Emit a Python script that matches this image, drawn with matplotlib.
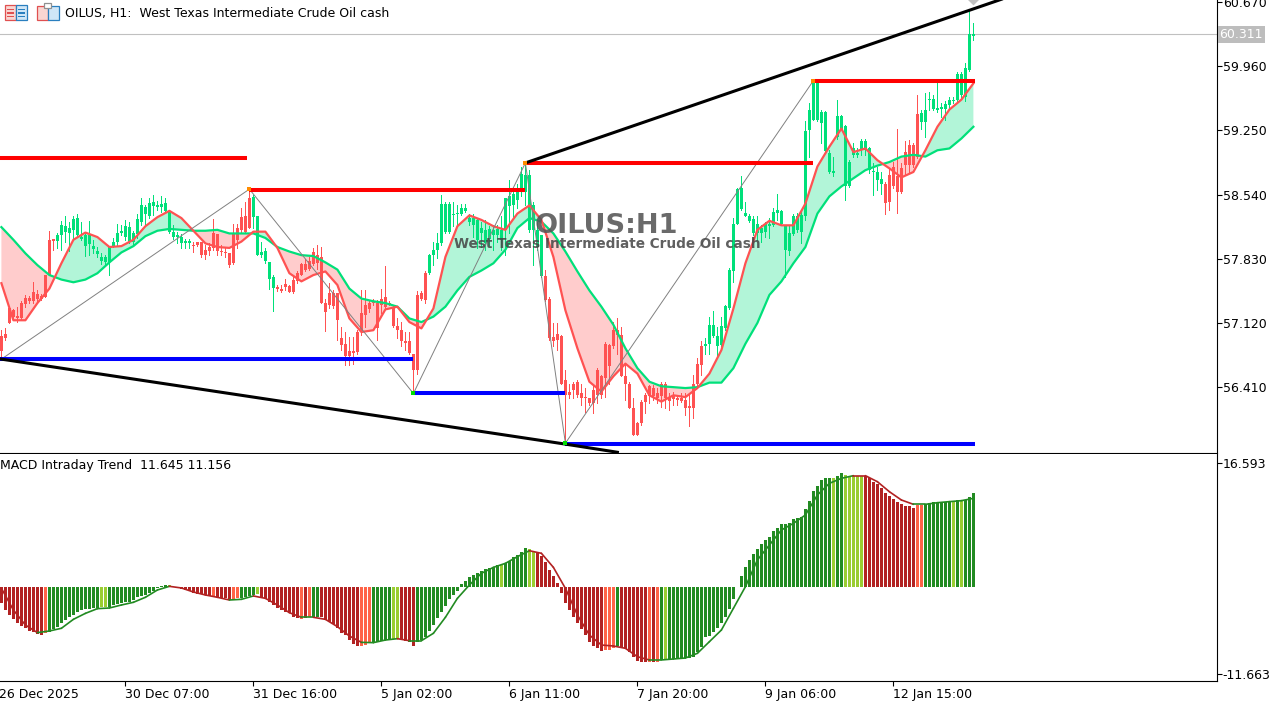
import numpy as np
import matplotlib
matplotlib.use("Agg")
import matplotlib.pyplot as plt
from matplotlib.patches import Rectangle

# candles, 244 H1 bars, ten bars per row
body_top = [56.98,57.0,57.28,57.26,57.2,57.34,57.4,57.4,57.46,57.44,
57.42,57.65,58.04,58.05,58.09,58.2,58.19,58.17,58.27,58.28,
58.07,58.09,58.09,57.97,57.92,57.85,57.85,57.96,58.01,58.11,
58.14,58.19,58.18,58.11,58.27,58.43,58.4,58.45,58.46,58.43,
58.44,58.45,58.35,58.13,58.09,58.07,58.03,58.03,57.98,58.01,
58.01,57.93,57.96,58.12,58.1,57.92,57.91,57.89,58.12,58.17,
58.29,58.3,58.5,58.51,58.3,57.91,57.92,57.79,57.63,57.52,
57.5,57.55,57.53,57.6,57.67,57.77,57.77,57.8,57.91,57.87,
57.85,57.34,57.45,57.45,57.45,56.95,56.89,56.81,56.81,57.02,
57.23,57.32,57.34,57.36,57.34,57.39,57.41,57.34,57.3,57.09,
57.04,56.92,56.92,56.78,57.43,57.45,57.67,57.87,57.93,58.0,
58.44,58.44,58.44,58.33,58.34,58.39,58.39,58.28,58.28,58.26,
58.17,58.15,58.16,58.15,58.16,58.15,58.5,58.52,58.55,58.57,
58.77,58.76,58.76,58.42,58.15,58.09,57.64,57.39,56.97,57.0,
56.98,56.49,56.36,56.45,56.47,56.34,56.3,56.29,56.38,56.6,
56.53,56.89,56.88,57.04,57.04,56.99,56.53,56.45,56.18,56.01,
56.25,56.32,56.42,56.4,56.35,56.45,56.45,56.3,56.31,56.29,
56.29,56.27,56.2,56.44,56.67,56.87,56.89,57.1,57.1,56.98,
57.09,57.31,57.71,58.21,58.6,58.61,58.34,58.3,58.27,58.22,
58.17,58.21,58.22,58.35,58.37,58.36,58.19,58.12,58.3,58.3,
58.31,59.24,59.48,59.79,59.77,59.45,59.45,59.0,58.8,59.41,
59.41,59.3,58.9,59.05,59.0,59.13,59.13,59.05,58.8,58.79,
58.71,58.66,58.76,58.85,58.74,58.83,59.01,59.09,59.09,59.43,
59.44,59.47,59.6,59.6,59.5,59.51,59.54,59.59,59.59,59.87,
59.87,59.94,60.32,60.32]
body_bot = [56.81,56.95,57.12,57.19,57.18,57.17,57.33,57.36,57.36,57.38,
57.38,57.41,57.65,58.03,58.03,58.09,58.13,58.12,58.15,58.09,
58.05,57.97,57.99,57.94,57.88,57.81,57.79,57.79,57.97,58.01,
58.11,58.07,58.02,58.02,58.1,58.24,58.33,58.3,58.41,58.4,
58.4,58.36,58.13,58.07,58.07,58.0,58.0,58.0,57.97,57.98,
57.87,57.87,57.92,57.95,57.92,57.9,57.89,57.76,57.78,58.04,
58.15,58.13,58.17,58.29,57.87,57.87,57.8,57.61,57.51,57.5,
57.47,57.52,57.46,57.46,57.58,57.65,57.71,57.72,57.77,57.78,
57.34,57.24,57.32,57.31,57.15,56.88,56.75,56.75,56.79,56.8,
57.02,57.21,57.27,57.34,57.06,57.32,57.3,57.33,57.09,57.04,
56.92,56.9,56.79,56.6,56.6,57.39,57.37,57.67,57.87,57.93,
58.0,58.13,58.13,58.31,58.33,58.33,58.36,58.24,58.2,58.04,
58.11,58.0,58.05,58.09,58.09,58.04,58.15,58.41,58.43,58.48,
58.57,58.57,58.15,58.15,57.96,57.64,57.37,56.95,56.92,56.93,
56.45,56.32,56.32,56.38,56.32,56.29,56.29,56.23,56.23,56.32,
56.32,56.51,56.64,56.86,56.99,56.53,56.45,56.18,55.88,55.88,
56.01,56.25,56.31,56.31,56.29,56.31,56.29,56.26,56.28,56.27,
56.26,56.18,56.18,56.18,56.44,56.66,56.86,56.89,56.98,56.87,
56.88,57.06,57.28,57.7,58.22,58.38,58.3,58.25,58.11,58.11,
58.11,58.13,58.19,58.2,58.34,58.21,57.93,57.92,58.1,58.15,
58.13,58.3,59.25,59.37,59.37,59.33,59.02,58.79,58.78,59.18,
59.27,58.63,58.64,58.98,58.98,59.03,59.03,58.81,58.79,58.7,
58.66,58.45,58.46,58.63,58.57,58.57,58.87,58.87,58.87,58.96,
59.34,59.34,59.59,59.49,59.48,59.49,59.49,59.53,59.57,59.59,
59.64,59.62,59.92,60.29]
highs = [57.04,57.06,57.28,57.27,57.3,57.36,57.43,57.42,57.57,57.49,
57.44,57.65,58.14,58.05,58.12,58.25,58.3,58.24,58.3,58.33,
58.24,58.11,58.25,58.04,57.96,57.89,57.87,57.97,58.06,58.21,
58.2,58.26,58.24,58.14,58.33,58.5,58.43,58.5,58.53,58.47,
58.52,58.5,58.37,58.2,58.13,58.1,58.05,58.05,58.02,58.02,
58.02,57.98,58.0,58.27,58.1,57.98,57.95,57.89,58.22,58.22,
58.39,58.46,58.61,58.54,58.3,58.02,57.95,57.79,57.65,57.54,
57.54,57.61,57.54,57.63,57.69,57.78,57.83,57.85,57.95,57.98,
57.96,57.38,57.56,57.48,57.45,57.08,57.02,56.97,56.97,57.04,
57.48,57.48,57.37,57.39,57.37,57.5,57.75,57.36,57.31,57.17,
57.13,57.02,57.02,56.78,57.47,57.47,57.69,57.88,58.02,58.11,
58.53,58.46,58.46,58.46,58.42,58.44,58.44,58.33,58.33,58.28,
58.24,58.26,58.19,58.2,58.2,58.3,58.5,58.7,58.57,58.66,
58.85,58.89,58.81,58.46,58.24,58.09,57.71,57.41,57.12,57.12,
56.99,56.6,56.45,56.47,56.49,56.45,56.4,56.29,56.43,56.62,
56.54,56.91,56.89,57.13,57.17,57.08,56.67,56.47,56.29,56.03,
56.27,56.34,56.43,56.43,56.4,56.47,56.47,56.34,56.36,56.32,
56.34,56.34,56.32,56.55,56.73,56.92,56.95,57.19,57.25,57.08,
57.19,57.32,57.73,58.28,58.61,58.75,58.46,58.33,58.3,58.3,
58.2,58.24,58.28,58.39,58.55,58.37,58.2,58.19,58.33,58.34,
58.35,59.35,59.55,59.79,59.79,59.48,59.46,59.03,58.96,59.59,
59.42,59.31,58.92,59.11,59.05,59.15,59.15,59.07,58.89,58.85,
58.79,58.68,58.83,58.9,59.26,58.89,59.13,59.14,59.11,59.64,
59.48,59.66,59.68,59.64,59.77,59.55,59.57,59.62,59.62,59.9,
59.9,60.0,60.58,60.44]
lows = [56.75,56.93,57.12,57.17,57.13,57.15,57.3,57.34,57.34,57.34,
57.37,57.41,57.65,57.93,57.95,57.93,58.01,57.92,58.04,58.07,
58.04,57.86,57.87,57.89,57.85,57.77,57.76,57.65,57.96,57.98,
58.09,58.04,58.0,57.98,58.06,58.2,58.19,58.28,58.31,58.37,
58.35,58.35,58.11,58.05,58.0,57.95,57.95,57.95,57.9,57.97,
57.85,57.83,57.87,57.93,57.87,57.87,57.85,57.74,57.77,57.95,
58.13,58.13,58.17,58.17,57.87,57.85,57.78,57.5,57.25,57.47,
57.46,57.49,57.46,57.45,57.56,57.65,57.69,57.71,57.76,57.72,
57.34,57.03,57.28,57.28,56.93,56.82,56.66,56.66,56.67,56.78,
56.99,57.08,57.24,57.32,56.93,57.23,57.28,57.32,57.08,56.95,
56.86,56.82,56.78,56.38,56.56,57.37,57.34,57.66,57.76,57.84,
57.98,58.12,58.12,58.19,58.22,58.31,58.35,58.2,58.07,57.95,
57.96,57.93,57.98,57.93,58.02,57.93,57.87,58.11,58.28,58.39,
58.52,58.42,58.13,57.76,57.93,57.63,57.36,56.93,56.86,56.82,
56.45,55.79,56.29,56.29,56.3,56.21,56.14,56.21,56.12,56.23,
56.29,56.3,56.45,56.84,56.78,56.53,56.27,56.18,55.88,55.88,
55.99,56.12,56.23,56.27,56.23,56.19,56.18,56.16,56.21,56.21,
56.25,56.1,55.98,56.07,56.4,56.55,56.78,56.78,56.97,56.76,
56.86,57.04,57.27,57.57,58.21,58.37,58.3,58.24,58.09,58.04,
58.01,58.07,58.06,58.19,58.26,58.2,57.63,57.87,58.09,58.13,
58.0,58.26,58.96,59.37,59.35,59.11,59.0,58.78,58.74,59.16,
59.26,58.48,58.62,58.96,58.96,58.98,58.98,58.78,58.54,58.59,
58.55,58.33,58.37,58.61,58.34,58.56,58.76,58.78,58.85,58.94,
59.27,59.18,59.48,59.48,59.45,59.4,59.37,59.49,59.55,59.57,
59.6,59.57,59.91,60.25]
candle_colors = ["r","g","r","g","r","g","r","g","r","g"]
candle_counts = [14,34,15,6,38,29,40,45,9,14]

# moving averages are read every third bar
slow_ma = [58.18,58.04,57.89,57.76,57.65,57.6,57.57,57.6,57.67,57.79,57.9,57.97,58.08,58.14,58.16,58.15,58.14,58.14,58.15,58.11,58.11,58.11,58.06,57.96,57.91,57.87,57.86,57.79,
57.71,57.5,57.39,57.36,57.34,57.3,57.17,57.13,57.19,57.3,57.48,57.63,57.7,57.78,57.93,58.17,58.28,58.24,58.11,57.91,57.69,57.48,57.3,57.1,56.84,56.62,
56.47,56.42,56.41,56.4,56.41,56.46,56.46,56.62,56.89,57.12,57.43,57.58,57.78,57.96,58.33,58.52,58.63,58.72,58.81,58.86,58.9,58.96,58.98,58.96,59.03,59.05,59.16,59.29]
fast_ma = [57.56,57.15,57.15,57.34,57.5,57.78,58.04,58.12,58.07,57.96,57.97,58.04,58.19,58.29,58.36,58.28,58.14,58.0,57.96,57.95,58.02,58.13,58.13,57.95,57.67,57.58,57.65,57.69,
57.54,57.17,57.02,57.04,57.27,57.3,57.13,57.06,57.28,57.85,58.19,58.31,58.26,58.19,58.15,58.33,58.42,58.26,57.85,57.26,56.84,56.47,56.36,56.53,56.67,56.56,
56.32,56.25,56.32,56.3,56.4,56.56,56.82,57.28,57.78,58.15,58.25,58.2,58.2,58.44,58.85,59.07,59.27,59.01,59.05,58.92,58.83,58.73,58.79,59.03,59.29,59.48,59.59,59.77]

# support and resistance levels: first bar, last bar, price
red_starts = [-1,62,131,203]
red_ends = [61.5,131,203,243.5]
red_prices = [58.94,58.59,58.89,59.8]
blue_starts = [-1,103,141]
blue_ends = [103,141,243.5]
blue_prices = [56.72,56.34,55.78]
zigzag_bars = [0,62,103,131,141,203]
zigzag_prices = [56.72,58.6,56.34,58.89,55.79,59.8]
high_pivot_bars = [62,131,203]
low_pivot_bars = [103,141]
upper_trend_bars = [131,250]
upper_trend_prices = [58.89,60.7]
lower_trend_bars = [0,141,154]
lower_trend_prices = [56.72,55.78,55.69]

price_ticks = [60.67,59.96,59.25,58.54,57.83,57.12,56.41]
last_price = 60.311

# MACD histogram
macd_hist = [-2.1,-3.08,-3.75,-4.33,-4.86,-5.18,-5.53,-5.89,-6.03,-6.29,
-6.38,-6.2,-5.98,-5.62,-5.31,-4.86,-4.42,-4.06,-3.75,-3.39,
-3.08,-2.99,-2.9,-2.86,-2.77,-2.68,-2.68,-2.63,-2.41,-2.28,
-2.19,-2.05,-1.96,-1.74,-1.38,-1.16,-1.03,-0.76,-0.54,-0.18,
0.13,0.22,0.22,-0.05,-0.13,-0.22,-0.4,-0.58,-0.76,-0.89,
-0.98,-1.07,-1.2,-1.2,-1.29,-1.43,-1.52,-1.79,-1.74,-1.52,
-1.52,-1.38,-1.16,-1.07,-0.98,-1.29,-1.61,-1.96,-2.41,-2.86,
-3.08,-3.3,-3.53,-3.97,-4.2,-4.28,-4.2,-3.97,-3.97,-3.97,
-4.06,-4.42,-4.69,-4.95,-5.53,-6.11,-6.43,-7.1,-7.63,-7.85,
-7.85,-7.77,-7.54,-7.45,-7.32,-7.23,-7.1,-6.92,-6.92,-6.92,
-7.1,-7.23,-7.41,-7.85,-7.32,-7.1,-6.65,-5.85,-5.09,-4.2,
-3.3,-2.54,-1.65,-1.07,-0.49,0.4,0.85,1.38,1.61,1.92,
2.14,2.41,2.59,2.72,2.95,2.95,3.26,3.53,3.97,4.28,
4.73,5.18,5.04,4.86,4.73,4.2,3.39,2.28,1.47,0.58,
-0.76,-2.1,-3.08,-3.97,-4.86,-5.67,-6.43,-7.32,-7.85,-8.12,
-8.52,-8.44,-8.44,-8.12,-7.85,-8.12,-8.34,-8.65,-9.33,-9.91,
-10.0,-10.0,-10.0,-10.0,-10.0,-9.77,-9.68,-9.68,-9.6,-9.51,
-9.51,-9.46,-9.46,-9.33,-8.66,-7.99,-6.65,-6.52,-5.98,-5.44,
-4.86,-3.97,-2.95,-1.61,0.05,1.47,2.72,3.62,4.37,5.04,
5.76,6.29,6.74,7.5,7.85,8.44,8.44,8.61,9.06,9.19,
9.33,10.4,11.51,12.85,13.52,14.33,14.55,14.55,14.55,14.86,
15.22,15.0,14.86,14.91,14.91,14.91,14.91,14.55,14.06,13.79,
13.21,12.63,12.18,11.74,11.43,11.11,10.85,10.85,10.62,10.98,
10.98,11.07,11.2,11.34,11.34,11.34,11.34,11.47,11.34,11.65,
11.65,11.65,12.09,12.63]
hist_colors = ["#B22222","#FF6347","#228B22","#9ACD32","#228B22","#9ACD32","#B22222","#FF6347","#B22222","#FF6347",
"#228B22","#9ACD32","#B22222","#FF6347","#B22222","#FF6347","#228B22","#B22222","#FF6347","#228B22",
"#9ACD32","#B22222","#228B22","#9ACD32","#228B22","#9ACD32","#B22222","#FF6347","#228B22","#B22222",
"#FF6347","#B22222","#FF6347","#228B22","#9ACD32","#228B22","#9ACD32","#228B22","#9ACD32","#B22222",
"#FF6347","#228B22","#9ACD32","#228B22","#9ACD32","#228B22"]
hist_counts = [11,1,13,2,15,1,10,1,4,2,
4,1,10,1,1,1,2,10,3,5,
2,4,21,1,6,2,17,3,1,7,
1,1,1,1,1,41,1,2,5,13,
2,7,1,1,1,3]
# signal line is read every third bar
macd_signal = [-0.18,-3.08,-5.09,-6.11,-5.89,-5.53,-4.33,-3.53,-2.9,-2.81,-2.41,-2.05,-1.38,-0.4,0.09,-0.13,-0.67,-1.07,-1.38,-1.74,
-1.65,-1.2,-1.52,-2.41,-3.44,-4.06,-4.06,-4.33,-5.31,-6.56,-7.41,-7.45,-7.1,-6.92,-7.19,-7.19,-6.2,-4.06,-1.52,0.27,
1.83,2.63,3.17,4.06,4.86,4.51,2.63,-0.18,-3.75,-6.43,-7.77,-7.9,-8.21,-9.33,-9.77,-9.77,-9.64,-9.51,-8.88,-7.32,
-5.76,-2.86,0.04,3.62,5.62,7.63,8.52,9.64,12.32,13.88,14.55,14.91,14.91,14.1,12.76,11.65,11.07,11.07,11.29,11.43,11.56,11.87]
macd_ticks = [16.593,-11.663]

time_bars = [31,63,95,127,159,191,223]
time_labels = ["30 Dec 07:00","31 Dec 16:00","5 Jan 02:00","6 Jan 11:00","7 Jan 20:00","9 Jan 06:00","12 Jan 15:00"]

GREEN = "#00E07A"
RED = "#FF5252"
W, H = 1285, 705
plt.rcParams["font.family"] = "DejaVu Sans"
FS = 9

fig = plt.figure(figsize=(W/100, H/100), dpi=100, facecolor="white")
ax = fig.add_axes([0, 1-452.5/H, 1217/W, 452.5/H])
ax2 = fig.add_axes([0, 1-681/H, 1217/W, (681-454)/H])

bars = np.arange(len(body_top))
ma_bars = bars[::3]
fast = np.array(fast_ma)
slow = np.array(slow_ma)
ax.fill_between(ma_bars, fast, slow, where=fast >= slow, interpolate=True, color="#B2F5D8", lw=0, zorder=1)
ax.fill_between(ma_bars, fast, slow, where=fast < slow, interpolate=True, color="#FFCCCC", lw=0, zorder=1)

cols = np.repeat([GREEN if c == "g" else RED for c in candle_colors], candle_counts)
ax.vlines(bars, lows, highs, colors=cols, lw=0.72, zorder=2, antialiased=False)
ax.bar(bars, np.array(body_top)-np.array(body_bot), 0.78, bottom=body_bot, color=cols, lw=0, zorder=2, antialiased=False)

ax.plot(ma_bars, slow, color=GREEN, lw=1.6, zorder=3, solid_joinstyle="round")
ax.plot(ma_bars, fast, color=RED, lw=1.6, zorder=3, solid_joinstyle="round")

ax.plot(zigzag_bars, zigzag_prices, color="#808080", lw=0.7, zorder=4)
ax.hlines(red_prices, red_starts, red_ends, colors="#FF0000", lw=2.9, zorder=5)
ax.hlines(blue_prices, blue_starts, blue_ends, colors="#0000FF", lw=2.9, zorder=5)
ax.plot(upper_trend_bars, upper_trend_prices, color="black", lw=2.2, zorder=6)
ax.plot(lower_trend_bars, lower_trend_prices, color="black", lw=2.2, zorder=6)
ax.scatter(high_pivot_bars, [zigzag_prices[zigzag_bars.index(b)] for b in high_pivot_bars], marker="s", s=12, color="#FF8C00", lw=0, zorder=7)
ax.scatter(low_pivot_bars, [zigzag_prices[zigzag_bars.index(b)] for b in low_pivot_bars], marker="s", s=12, color="#00DD00", lw=0, zorder=7)
ax.scatter([243], [60.71], marker="D", s=50, color="#C0C0C0", lw=0, zorder=7)

ax.axhline(last_price, color="#C0C0C0", lw=0.8, zorder=1)

# these texts are placed in pixels of the figure
def pix_text(x, y, s, **kw):
    fig.text(x/W, 1-y/H, s, **kw)

pix_text(606, 226, "OILUS:H1", ha="center", va="center", fontsize=19.5, fontweight="bold", color="#555555", alpha=0.88, zorder=10)
pix_text(607, 244, "West Texas Intermediate Crude Oil cash", ha="center", va="center", fontsize=9.8, fontweight="bold", color="#444444", alpha=0.85, zorder=10)
pix_text(65, 13, "OILUS, H1:  West Texas Intermediate Crude Oil cash", ha="left", va="center", fontsize=FS, color="black")
pix_text(0, 466, "MACD Intraday Trend  11.645 11.156", ha="left", va="center", fontsize=FS, color="black")
pix_text(-1, 694, "26 Dec 2025", ha="left", va="center", fontsize=FS, color="black")

ax.set_xlim(-0.35, 303.9)
ax.set_ylim(60.692-0.01106*452.5, 60.692)
ax.yaxis.tick_right()
ax.set_yticks(price_ticks, labels=["%.3f" % p for p in price_ticks])
ax.set_xticks([])
ax.text(1.002, last_price, "%.3f" % last_price, transform=ax.get_yaxis_transform(), color="white", fontsize=FS, va="center", ha="left",
        bbox=dict(facecolor="#BDBDBD", edgecolor="none", boxstyle="square,pad=0.15"), zorder=9, clip_on=False)

hist_cols = np.repeat(hist_colors, hist_counts)
ax2.bar(bars, macd_hist, 0.78, color=hist_cols, lw=0, zorder=2, antialiased=False)
for k in range(len(ma_bars)-1):
    c = hist_cols[ma_bars[k+1]]
    c = "#B22222" if c in ("#B22222", "#FF6347") else "#228B22"
    ax2.plot(ma_bars[k:k+2], macd_signal[k:k+2], color=c, lw=1.2, zorder=3, solid_capstyle="round")
ax2.set_xlim(-0.35, 303.9)
ax2.set_ylim((587-681)*0.1339, (587-454)*0.1339)
ax2.yaxis.tick_right()
ax2.set_yticks(macd_ticks, labels=["%.3f" % p for p in macd_ticks])
ax2.set_xticks(time_bars, labels=time_labels, ha="left")

for a in (ax, ax2):
    a.spines["top"].set_visible(False)
    a.spines["left"].set_visible(False)
    a.spines["right"].set_linewidth(0.8)
    a.spines["bottom"].set_linewidth(0.8)
    a.tick_params(axis="y", length=3.6, width=0.8, pad=0.5, labelsize=FS)
    a.tick_params(axis="x", length=3.6, width=0.8, pad=1.5, labelsize=FS)

# toolbar icons in the top left corner
def icon(x, y, w, h, **kw):
    fig.add_artist(Rectangle((x/W, 1-(y+h)/H), w/W, h/H, transform=fig.transFigure, **kw))

icon(5, 5, 11, 15, facecolor="#F9D6D2", edgecolor="#E05050", lw=0.9)
icon(16, 5, 10.5, 15, facecolor="#CFE6F7", edgecolor="#2A7FBF", lw=0.9)
for yy in (9, 12.5, 16):
    icon(7, yy, 7, 1, facecolor="#E05050", edgecolor="none")
    icon(18, yy, 7, 1, facecolor="#2A7FBF", edgecolor="none")
icon(37, 6, 11, 14, facecolor="#F9D6D2", edgecolor="#E05050", lw=0.9)
icon(48, 6, 10.5, 14, facecolor="#CFE6F7", edgecolor="#2A7FBF", lw=0.9)
icon(44, 3.5, 7, 4, facecolor="white", edgecolor="#909090", lw=0.9)

fig.savefig("out.png", dpi=100, facecolor="white")
